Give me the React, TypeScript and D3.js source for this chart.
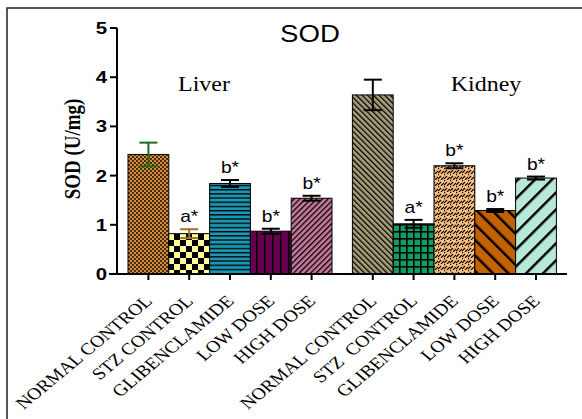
import React from 'react';
import {scaleLinear} from 'd3';

// values
const groups = ['NORMAL CONTROL', 'STZ CONTROL', 'GLIBENCLAMIDE', 'LOW DOSE', 'HIGH DOSE'];
const kidneyGroups = ['NORMAL CONTROL', 'STZ  CONTROL', 'GLIBENCLAMIDE', 'LOW DOSE', 'HIGH DOSE'];
const organs = ['Liver', 'Kidney'];
const liverMean = [2.43, 0.82, 1.84, 0.87, 1.54];
const liverSem = [0.24, 0.09, 0.07, 0.05, 0.05];
const kidneyMean = [3.64, 1.02, 2.2, 1.29, 1.95];
const kidneySem = [0.31, 0.08, 0.05, 0.03, 0.03];
const signif = ['', 'a*', 'b*', 'b*', 'b*'];
const yTicks = [0, 1, 2, 3, 4, 5];

const W = 582, H = 419;
const SX = 1.2; // the source image is stretched sideways
const x = scaleLinear().domain([0, 1]).range([128, 168.8]);
const y = scaleLinear().domain([0, 5]).range([274, 28]);
const bw = x(1) - x(0);
const serif = 'Times New Roman, Liberation Serif, serif';
const sans = 'Arial, Liberation Sans, sans-serif';

const patterns = ['pLN', 'pLS', 'pLG', 'pLL', 'pLH', 'pKN', 'pKS', 'pKG', 'pKL', 'pKH'];
const errColor = ['#1d6b1d', '#9c7426', '#000', '#000', '#000', '#000', '#000', '#000', '#000', '#000'];

const bars = [
  ...liverMean.map((v, i) => ({slot: i, v, sem: liverSem[i], sig: signif[i], label: groups[i]})),
  ...kidneyMean.map((v, i) => ({slot: i + 5.5, v, sem: kidneySem[i], sig: signif[i], label: kidneyGroups[i]})),
];

function Defs() {
  return (
    <defs>
      <pattern id="pLN" width={4} height={4} patternUnits="userSpaceOnUse">
        <rect width={4} height={4} fill="#d38d3e" />
        <rect width={2} height={2} fill="#4a2c0c" />
        <rect x={2} y={2} width={2} height={2} fill="#4a2c0c" />
      </pattern>
      <pattern id="pLS" width={12} height={12} patternUnits="userSpaceOnUse">
        <rect width={12} height={12} fill="#ffff9c" />
        <rect width={6} height={6} fill="#000" />
        <rect x={6} y={6} width={6} height={6} fill="#000" />
      </pattern>
      <pattern id="pLG" width={4} height={4.2} patternUnits="userSpaceOnUse">
        <rect width={4} height={4.2} fill="#1a97b2" />
        <rect width={4} height={1.3} fill="#000" />
      </pattern>
      <pattern id="pLL" width={8} height={8} patternUnits="userSpaceOnUse">
        <rect width={8} height={8} fill="#680050" />
        <rect width={1.5} height={8} fill="#000" />
      </pattern>
      <pattern id="pLH" width={4} height={4} patternUnits="userSpaceOnUse" patternTransform="rotate(45)">
        <rect width={4} height={4} fill="#c77a9d" />
        <rect width={1.3} height={4} fill="#000" />
      </pattern>
      <pattern id="pKN" width={4} height={4} patternUnits="userSpaceOnUse" patternTransform="rotate(-45)">
        <rect width={4} height={4} fill="#a9a07b" />
        <rect width={1.3} height={4} fill="#000" />
      </pattern>
      <pattern id="pKS" width={7} height={7} patternUnits="userSpaceOnUse">
        <rect width={7} height={7} fill="#109e63" />
        <rect width={7} height={1.6} fill="#000" />
        <rect width={1.6} height={7} fill="#000" />
      </pattern>
      <pattern id="pKG" width={6} height={6} patternUnits="userSpaceOnUse">
        <rect width={6} height={6} fill="#ffc180" />
        <path d="M0,5 L3,2 M3,6 L6,3 M-1,2 L1,0" stroke="#000" strokeWidth={1.2} />
      </pattern>
      <pattern id="pKL" width={11} height={11} patternUnits="userSpaceOnUse" patternTransform="rotate(-45)">
        <rect width={11} height={11} fill="#c46100" />
        <rect width={2.5} height={11} fill="#000" />
      </pattern>
      <pattern id="pKH" width={12} height={12} patternUnits="userSpaceOnUse" patternTransform="rotate(45)">
        <rect width={12} height={12} fill="#b6ead6" />
        <rect width={2.5} height={12} fill="#000" />
      </pattern>
    </defs>
  );
}

function SText({x, y, rot = 0, children, ...rest}: any) {
  return (
    <text transform={`translate(${x},${y}) scale(${SX},1) rotate(${rot})`} style={{whiteSpace: 'pre'}} {...rest}>
      {children}
    </text>
  );
}

export default function App() {
  const capW = 9;
  return (
    <svg width={W} height={H} style={{position: 'absolute', left: 0, top: 0, background: '#fff'}}>
      <Defs />
      {/* outer frame, runs off right and bottom */}
      <path d={`M7,${H + 5} L7,8 L${W + 5},8`} fill="none" stroke="#222" strokeWidth={1.5} />

      <SText x={310} y={42} textAnchor="middle" fontFamily={sans} fontSize={23}>SOD</SText>
      <SText x={204} y={91} textAnchor="middle" fontFamily={serif} fontSize={20}>{organs[0]}</SText>
      <SText x={486} y={91} textAnchor="middle" fontFamily={serif} fontSize={20}>{organs[1]}</SText>

      <SText x={80} y={149} rot={-90} textAnchor="middle" fontFamily={serif} fontWeight="bold" fontSize={19}>SOD (U/mg)</SText>

      {bars.map((b, i) => {
        const x0 = x(b.slot);
        const cx = x0 + bw / 2;
        const top = y(b.v + b.sem);
        const bot = y(b.v - b.sem);
        return (
          <g key={i}>
            <rect x={x0} y={y(b.v)} width={bw} height={y(0) - y(b.v)} fill={`url(#${patterns[i]})`} stroke="#000" strokeWidth={1} />
            <g stroke={errColor[i]} strokeWidth={2}>
              <line x1={cx} x2={cx} y1={top} y2={bot} />
              <line x1={cx - capW} x2={cx + capW} y1={top} y2={top} />
              <line x1={cx - capW} x2={cx + capW} y1={bot} y2={bot} />
            </g>
            {b.sig && (
              <SText x={cx} y={top - 7} textAnchor="middle" fontFamily={sans} fontSize={16}>{b.sig}</SText>
            )}
            <line x1={cx} x2={cx} y1={y(0)} y2={y(0) + 6} stroke="#000" strokeWidth={2} />
            <SText x={cx + 5} y={y(0) + 28} rot={-45} textAnchor="end" fontFamily={serif} fontSize={16.5}>{b.label}</SText>
          </g>
        );
      })}

      {/* axes */}
      <line x1={117} x2={117} y1={y(5)} y2={y(0)} stroke="#000" strokeWidth={2} />
      <line x1={109} x2={567} y1={y(0)} y2={y(0)} stroke="#000" strokeWidth={2} />
      {yTicks.map(t => (
        <g key={t}>
          <line x1={110} x2={117} y1={y(t)} y2={y(t)} stroke="#000" strokeWidth={2} />
          <SText x={107} y={y(t) + 6} textAnchor="end" fontFamily={sans} fontWeight="bold" fontSize={17}>{t}</SText>
        </g>
      ))}
    </svg>
  );
}
